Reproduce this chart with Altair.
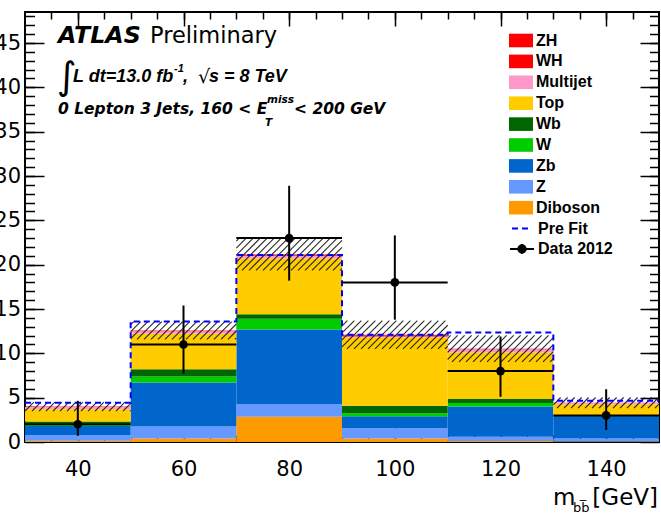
import altair as alt
import pandas as pd

# ---- m_bb histogram: bin edges [GeV] ----
bin_lo = [30, 50, 70, 90, 110, 130]
bin_hi = [50, 70, 90, 110, 130, 150]

# ---- post-fit yields per bin (events), bottom of the stack first ----
samples = ["Diboson", "Z", "Zb", "W", "Wb", "Top", "Multijet", "WH", "ZH"]
diboson  = [0.15, 0.40, 2.85, 0.40, 0.10, 0.05]
z_light  = [0.65, 1.35, 1.45, 1.15, 0.50, 0.35]
zb       = [1.00, 4.95, 8.40, 1.35, 3.40, 2.55]
w_light  = [0.30, 0.70, 1.20, 0.35, 0.40, 0.05]
wb       = [0.20, 0.80, 0.50, 0.85, 0.45, 0.05]
top      = [1.40, 4.00, 6.30, 7.70, 5.25, 1.20]
multijet = [0.25, 0.30, 0.30, 0.10, 0.35, 0.15]
wh       = [0.02, 0.04, 0.08, 0.10, 0.04, 0.01]
zh       = [0.02, 0.04, 0.08, 0.10, 0.04, 0.01]

# half-width of the hatched background uncertainty band
bkg_unc = [0.50, 1.00, 1.80, 1.60, 1.50, 0.60]

# pre-fit total expectation
prefit = [4.44, 13.6, 21.1, 12.1, 12.35, 4.66]

# observed events (2012) with asymmetric errors
data_obs = [2, 11, 23, 18, 8, 3]
data_err_lo = [1.30, 3.30, 4.80, 4.20, 2.90, 1.65]
data_err_hi = [2.65, 4.40, 5.90, 5.30, 3.90, 2.95]

# legend order (top to bottom) and fill colours
legend_order = ["ZH", "WH", "Multijet", "Top", "Wb", "W", "Zb", "Z", "Diboson"]
legend_colors = ["#ff0000", "#ff0000", "#ff99cc", "#ffcc00", "#006600",
                 "#00cc00", "#0066cc", "#6699ff", "#ff9900"]

# axis ticks
x_major = [40, 60, 80, 100, 120, 140]
x_minor = [v for v in range(35, 150, 5)]
y_major = [0, 5, 10, 15, 20, 25, 30, 35, 40, 45]
y_minor = list(range(1, 49))

W, H = 634, 430
X_MIN, X_MAX = 30, 150
Y_MAX = 48.5

yields = {"Diboson": diboson, "Z": z_light, "Zb": zb, "W": w_light, "Wb": wb,
          "Top": top, "Multijet": multijet, "WH": wh, "ZH": zh}

rows = []
for k, name in enumerate(samples):
    for i in range(len(bin_lo)):
        rows.append({"lo": bin_lo[i], "hi": bin_hi[i], "sample": name,
                     "value": yields[name][i], "order": k})
stack_df = pd.DataFrame(rows)

totals = [sum(yields[s][i] for s in samples) for i in range(len(bin_lo))]


def hatch_segments(step_px=7.0, slope_px=1.0):
    """Diagonal hatch lines filling each uncertainty rectangle."""
    kx = W / (X_MAX - X_MIN)
    ky = H / Y_MAX
    segs = []
    for i in range(len(bin_lo)):
        x0 = (bin_lo[i] - X_MIN) * kx
        x1 = (bin_hi[i] - X_MIN) * kx
        yb = (totals[i] - bkg_unc[i]) * ky
        yt = (totals[i] + bkg_unc[i]) * ky
        run = (yt - yb) / slope_px
        c = step_px * int((x0 - run) // step_px)
        while c < x1:
            sx, sy = c, yb
            ex, ey = c + run, yt
            if sx < x0:
                sy = yb + slope_px * (x0 - c)
                sx = x0
            if ex > x1:
                ey = yb + slope_px * (x1 - c)
                ex = x1
            if ex > sx:
                segs.append({"xa": X_MIN + sx / kx, "ya": sy / ky,
                             "xb": X_MIN + ex / kx, "yb": ey / ky})
            c += step_px
    return pd.DataFrame(segs)


hatch_df = hatch_segments()

prefit_df = pd.DataFrame({"edge": bin_lo + [bin_hi[-1]],
                          "level": prefit + [prefit[-1]],
                          "series": "Pre Fit"})

data_df = pd.DataFrame({
    "lo": bin_lo, "hi": bin_hi,
    "center": [(a + b) / 2 for a, b in zip(bin_lo, bin_hi)],
    "n": data_obs,
    "ylo": [n - e for n, e in zip(data_obs, data_err_lo)],
    "yhi": [n + e for n, e in zip(data_obs, data_err_hi)],
    "series": "Data 2012",
})

xs = alt.Scale(domain=[X_MIN, X_MAX], nice=False, zero=False)
ys = alt.Scale(domain=[0, Y_MAX], nice=False)

LABEL_FONT = "DejaVu Sans"
LEG_FONT = "Liberation Sans"
LEG_X = 486


def tick(n):
    return {"expr": str(-n)}


x_main_axis = alt.Axis(values=x_major, tickSize=tick(14), labelPadding=30,
                       labelFontSize=21, labelFont=LABEL_FONT, title=None)
y_main_axis = alt.Axis(values=y_major, tickSize=tick(19), labelPadding=23.5,
                       labelFontSize=21, labelFont=LABEL_FONT, title=None)

leg_text = dict(labelFont=LEG_FONT, labelFontSize=16, labelFontWeight="bold",
                labelColor="black", labelOffset=5, padding=0, title=None,
                orient="none", legendX=LEG_X)

stack = alt.Chart(stack_df).transform_stack(
    stack="value", as_=["y0", "y1"], groupby=["lo"],
    sort=[alt.SortField("order", order="ascending")]
).mark_rect(stroke=None).encode(
    x=alt.X("lo:Q", scale=xs, axis=x_main_axis),
    x2="hi:Q",
    y=alt.Y("y0:Q", scale=ys, axis=y_main_axis),
    y2="y1:Q",
    color=alt.Color(
        "sample:N",
        scale=alt.Scale(domain=legend_order, range=legend_colors),
        legend=alt.Legend(legendY=18.5,
                          symbolType="M-1.2,-0.68H1.2V0.68H-1.2Z", symbolSize=400,
                          symbolStrokeWidth=0, symbolOpacity=1,
                          rowPadding=2.9, labelLimit=200, **leg_text),
    ),
)

hatch = alt.Chart(hatch_df).mark_rule(color="#111111", strokeWidth=1.1, opacity=0.9).encode(
    x=alt.X("xa:Q", scale=xs, axis=None),
    y=alt.Y("ya:Q", scale=ys, axis=None),
    x2="xb:Q",
    y2="yb:Q",
)

prefit_line = alt.Chart(prefit_df).mark_line(
    interpolate="step-after", color="#0000ff", strokeWidth=2
).encode(
    x=alt.X("edge:Q", scale=xs, axis=None),
    y=alt.Y("level:Q", scale=ys, axis=None),
    strokeDash=alt.StrokeDash(
        "series:N",
        scale=alt.Scale(domain=["Pre Fit"], range=[[6, 4]]),
        legend=alt.Legend(legendY=205.5, symbolSize=400, symbolStrokeWidth=2,
                          **leg_text),
    ),
)

# legend glyph for the data: cross of error bars with a solid marker
# (concentric rings stroked at width 2 make the filled dot)
DATA_SYMBOL = ("M-1.2,0H1.2M0,-0.5V0.5"
               "M-0.075,0A0.075,0.075 0 1,0 0.075,0A0.075,0.075 0 1,0 -0.075,0"
               "M-0.225,0A0.225,0.225 0 1,0 0.225,0A0.225,0.225 0 1,0 -0.225,0"
               "M-0.375,0A0.375,0.375 0 1,0 0.375,0A0.375,0.375 0 1,0 -0.375,0")

err_v = alt.Chart(data_df).mark_rule(color="black", strokeWidth=2).encode(
    x=alt.X("center:Q", scale=xs, axis=None),
    y=alt.Y("ylo:Q", scale=ys, axis=None),
    y2="yhi:Q",
)
err_h = alt.Chart(data_df).mark_rule(color="black", strokeWidth=2).encode(
    x=alt.X("lo:Q", scale=xs, axis=None),
    x2="hi:Q",
    y=alt.Y("n:Q", scale=ys, axis=None),
    opacity=alt.Opacity(
        "series:N",
        scale=alt.Scale(domain=["Data 2012"], range=[1]),
        legend=alt.Legend(legendY=226, symbolType=DATA_SYMBOL, symbolSize=400,
                          symbolStrokeColor="black", symbolStrokeWidth=2,
                          **leg_text),
    ),
)

points = alt.Chart(data_df).mark_point(filled=True, color="black", size=75,
                                       opacity=1).encode(
    x=alt.X("center:Q", scale=xs, axis=None),
    y=alt.Y("n:Q", scale=ys, axis=None),
)


def tick_layer(x_axis, y_axis):
    return alt.Chart(data_df).mark_point(opacity=0).encode(
        x=alt.X("center:Q", scale=xs, axis=x_axis),
        y=alt.Y("n:Q", scale=ys, axis=y_axis),
    )


no_lab = dict(labels=False, title=None)
ticks_minor = tick_layer(
    alt.Axis(orient="bottom", values=x_minor, tickSize=tick(7), **no_lab),
    alt.Axis(orient="left", values=y_minor, tickSize=tick(9.5), **no_lab),
)
ticks_far = tick_layer(
    alt.Axis(orient="top", values=x_major, tickSize=tick(14), **no_lab),
    alt.Axis(orient="right", values=y_major, tickSize=tick(19), **no_lab),
)
ticks_far_minor = tick_layer(
    alt.Axis(orient="top", values=x_minor, tickSize=tick(7), **no_lab),
    alt.Axis(orient="right", values=y_minor, tickSize=tick(9.5), **no_lab),
)


def note(text, x, y, size, font="Liberation Sans", weight="normal", style="normal",
         align="left"):
    return alt.Chart(pd.DataFrame({"t": [text]})).mark_text(
        align=align, baseline="alphabetic", font=font, fontSize=size,
        fontWeight=weight, fontStyle=style, color="black",
    ).encode(x=alt.value(x), y=alt.value(y), text="t:N")


notes = [
    note("ATLAS", 33, 31, 23.7, font="DejaVu Sans", weight="bold", style="italic"),
    note("Preliminary", 125, 31, 22.5, font="DejaVu Sans"),
    note("\u222b", 32, 77, 38, font="DejaVu Sans"),
    note("L dt=13.0 fb", 48, 70, 18, weight="bold", style="italic"),
    note("-1", 149, 60, 11, weight="bold", style="italic"),
    note(",", 158, 70, 18, weight="bold", style="italic"),
    note("\u221a", 173, 71, 19, font="DejaVu Sans"),
    note("s = 8 TeV", 184, 70, 18, weight="bold", style="italic"),
    note("0 Lepton 3 Jets, 160 < E", 33, 102, 15.5, font="DejaVu Sans",
         weight="bold", style="italic"),
    note("miss", 242, 91, 10.5, font="DejaVu Sans", weight="bold", style="italic"),
    note("T", 240, 114, 10.5, font="DejaVu Sans", weight="bold", style="italic"),
    note("< 200 GeV", 269, 102, 15.5, font="DejaVu Sans", weight="bold", style="italic"),
    note("m", 528, 493, 23, font="DejaVu Sans"),
    note("bb\u0305", 548, 500, 13, font="DejaVu Sans"),
    note("[GeV]", 633, 493, 23, font="DejaVu Sans", align="right"),
]

chart = alt.layer(
    stack, hatch, prefit_line, err_h, err_v, points,
    ticks_minor, ticks_far, ticks_far_minor, *notes,
).resolve_axis(
    x="independent", y="independent"
).properties(
    width=W, height=H,
    autosize=alt.AutoSizeParams(type="none"),
    padding={"left": 25, "top": 12, "right": 2, "bottom": 76},
    background="white",
).configure_view(
    stroke="black", strokeWidth=2
).configure_axis(
    domain=False, grid=False, tickColor="black", tickWidth=1.5,
    labelColor="black",
)

chart.save("out.html", embed_options={"renderer": "svg", "actions": False})
